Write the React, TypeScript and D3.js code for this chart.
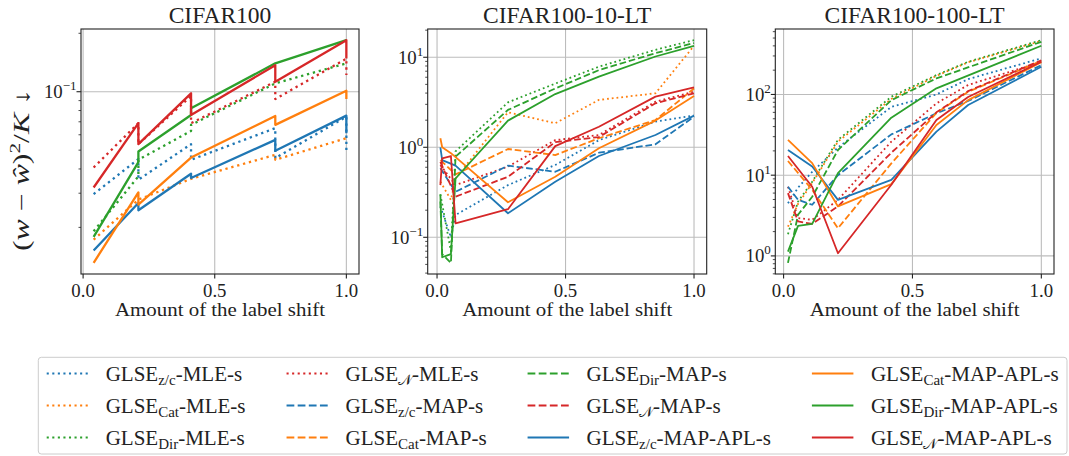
import React, { useEffect, useRef } from "react";
import * as d3 from "d3";

const W = 1069;
const H = 456;
const FONT = "'Liberation Serif', 'DejaVu Serif', serif";

// Estimator families (subscript) and their colours
const groups = ["z/c", "Cat", "Dir", "N"];
const groupColors = ["#1f77b4", "#ff7f0e", "#2ca02c", "#d62728"];
// Inference variants and their line styles
const methods = ["MLE-s", "MAP-s", "MAP-APL-s"];
const methodStyles = ["dotted", "dashed", "solid"];

// ---- CIFAR100 (two runs at each shift amount) ----
const c100X = [0.04, 0.21, 0.21, 0.41, 0.41, 0.73, 0.73, 1.0, 1.0];
const c100ZcMle = [0.0297, 0.045, 0.0352, 0.0537, 0.0446, 0.0649, 0.0455, 0.0744, 0.0496];
const c100CatMle = [0.0173, 0.0278, 0.0278, 0.0356, 0.0356, 0.0473, 0.0446, 0.0576, 0.0576];
const c100DirMle = [0.0191, 0.0366, 0.0446, 0.0628, 0.0675, 0.1104, 0.1104, 0.14, 0.14];
const c100NMle = [0.0407, 0.0689, 0.0537, 0.095, 0.0689, 0.1126, 0.0917, 0.148, 0.122];
const c100ZcApl = [0.0152, 0.0267, 0.0245, 0.0378, 0.0359, 0.0565, 0.0497, 0.0753, 0.0611];
const c100CatApl = [0.01313, 0.0303, 0.0262, 0.0458, 0.0458, 0.075, 0.0675, 0.1012, 0.0917];
const c100DirApl = [0.01786, 0.0434, 0.0492, 0.0759, 0.0822, 0.14, 0.14, 0.1844, 0.1844];
const c100NApl = [0.0321, 0.0689, 0.0537, 0.0981, 0.0759, 0.137, 0.1126, 0.1844, 0.1484];

// ---- CIFAR100-10-LT ----
const lt10X = [0.013, 0.02, 0.054, 0.072, 0.276, 0.46, 0.63, 0.85, 1.0];
const lt10ZcMle = [0.22, NaN, 0.1, 0.177, 0.38, 0.636, 1.2, 1.93, 2.25];
const lt10CatMle = [0.415, NaN, 0.26, 0.45, 2.45, 1.85, 3.36, 3.98, 13.4];
const lt10DirMle = [0.3, NaN, 0.07, 0.9, 3.16, 5.1, 7.86, 12.1, 15.5];
const lt10NMle = [0.636, NaN, NaN, 0.38, 0.61, 1.2, 1.37, 3.21, 4.15];
const lt10ZcMap = [0.585, NaN, NaN, 0.32, 0.625, 0.535, 0.87, 1.08, 2.19];
const lt10CatMap = [0.72, NaN, NaN, 0.5, 0.957, 0.82, 1.26, 2.01, 4.5];
const lt10DirMap = [0.25, 0.065, 0.052, 0.787, 2.6, 4.5, 7.2, 11.1, 14.4];
const lt10NMap = [0.69, NaN, NaN, 0.283, 0.47, 1.14, 1.3, 3.08, 3.98];
const lt10ZcApl = [1.0, 0.72, NaN, 0.625, 0.185, 0.415, 0.8, 1.37, 2.25];
const lt10CatApl = [1.26, 1.0, 0.86, NaN, 0.245, 0.47, 0.975, 1.98, 3.72];
const lt10DirApl = [0.3, 0.06, 0.065, 0.45, 1.976, 3.9, 6.09, 10.2, 13.4];
const lt10NApl = [0.38, 0.755, 0.8, 0.143, 0.205, 1.03, 1.69, 3.65, 4.64];

// ---- CIFAR100-100-LT ----
const lt100X = [0.017, 0.056, 0.111, 0.211, 0.418, 0.593, 0.716, 1.0];
const lt100ZcMle = [4.5, 7, 11, 22, 70, 100, 155, 280];
const lt100CatMle = [2.3, 4.4, 8, 26, 88, 170, 250, 460];
const lt100DirMle = [1.86, 4.7, 8.3, 27.4, 93.7, 174, 254, 471];
const lt100NMle = [7.2, 2.94, 2.8, 4.95, 26, 77.6, 131, 254];
const lt100ZcMap = [7.2, 4.95, 4.3, 10, 32, 58.5, 83, 231];
const lt100CatMap = [15, NaN, 6.6, 2.2, 14, 59, 108, 260];
const lt100DirMap = [0.82, 3.23, 5.4, 20.5, 85, 158, NaN, 449];
const lt100NMap = [6, 2.67, 2.5, 4.1, 19, 60, 110, 265];
const lt100ZcApl = [20.5, NaN, 12.8, 4.95, 8.75, 34.6, 74, 220];
const lt100CatApl = [27.4, NaN, 14.1, 4.1, 7.74, 41.9, 85, 251];
const lt100DirApl = [1.13, 2.36, 2.5, 10.6, 51.5, 119, NaN, 401];
const lt100NApl = [17.3, NaN, 7.2, 1.08, 7.6, 48.3, 93, 254];

const xTicks = [0, 0.5, 1.0];
const xTickLabels = ["0.0", "0.5", "1.0"];
const titles = ["CIFAR100", "CIFAR100-10-LT", "CIFAR100-100-LT"];
const xLabel = "Amount of the label shift";

type Series = { g: number; m: number; ys: number[] };

const panels = [
  {
    title: titles[0],
    xs: c100X,
    lw: 2.3,
    series: [
      { g: 0, m: 0, ys: c100ZcMle },
      { g: 1, m: 0, ys: c100CatMle },
      { g: 2, m: 0, ys: c100DirMle },
      { g: 3, m: 0, ys: c100NMle },
      { g: 0, m: 2, ys: c100ZcApl },
      { g: 1, m: 2, ys: c100CatApl },
      { g: 2, m: 2, ys: c100DirApl },
      { g: 3, m: 2, ys: c100NApl },
    ] as Series[],
    box: [81, 359],
  },
  {
    title: titles[1],
    xs: lt10X,
    lw: 1.8,
    series: [
      { g: 0, m: 0, ys: lt10ZcMle },
      { g: 1, m: 0, ys: lt10CatMle },
      { g: 2, m: 0, ys: lt10DirMle },
      { g: 3, m: 0, ys: lt10NMle },
      { g: 0, m: 1, ys: lt10ZcMap },
      { g: 1, m: 1, ys: lt10CatMap },
      { g: 2, m: 1, ys: lt10DirMap },
      { g: 3, m: 1, ys: lt10NMap },
      { g: 0, m: 2, ys: lt10ZcApl },
      { g: 1, m: 2, ys: lt10CatApl },
      { g: 2, m: 2, ys: lt10DirApl },
      { g: 3, m: 2, ys: lt10NApl },
    ] as Series[],
    box: [427.7, 706.7],
  },
  {
    title: titles[2],
    xs: lt100X,
    lw: 1.8,
    series: [
      { g: 0, m: 0, ys: lt100ZcMle },
      { g: 1, m: 0, ys: lt100CatMle },
      { g: 2, m: 0, ys: lt100DirMle },
      { g: 3, m: 0, ys: lt100NMle },
      { g: 0, m: 1, ys: lt100ZcMap },
      { g: 1, m: 1, ys: lt100CatMap },
      { g: 2, m: 1, ys: lt100DirMap },
      { g: 3, m: 1, ys: lt100NMap },
      { g: 0, m: 2, ys: lt100ZcApl },
      { g: 1, m: 2, ys: lt100CatApl },
      { g: 2, m: 2, ys: lt100DirApl },
      { g: 3, m: 2, ys: lt100NApl },
    ] as Series[],
    box: [775.3, 1054],
  },
];

const TOP = 29;
const BOTTOM = 274;

function dashFor(style: string, lw: number): string | null {
  if (style === "dotted") return `${1 * lw} ${1.65 * lw}`;
  if (style === "dashed") return `${3.7 * lw} ${1.6 * lw}`;
  return null;
}

function withMargin(lo: number, hi: number) {
  const m = 0.05 * (hi - lo);
  return [lo - m, hi + m];
}

export default function App() {
  const ref = useRef<SVGSVGElement>(null);

  useEffect(() => {
    const svg = d3.select(ref.current!);
    svg.selectAll("*").remove();
    svg.append("rect").attr("width", W).attr("height", H).attr("fill", "#fff");

    panels.forEach((p, pi) => {
      const [left, right] = p.box;
      const xExt = d3.extent(p.xs) as [number, number];
      const x = d3.scaleLinear().domain(withMargin(xExt[0], xExt[1])).range([left, right]);

      const allY = p.series.flatMap((s) => s.ys.filter((v) => !isNaN(v)));
      const [lyLo, lyHi] = withMargin(
        Math.log10(d3.min(allY)!),
        Math.log10(d3.max(allY)!)
      );
      const y = d3.scaleLog().domain([10 ** lyLo, 10 ** lyHi]).range([BOTTOM, TOP]);

      const g = svg.append("g");
      const clipId = `clip-${pi}`;
      g.append("clipPath")
        .attr("id", clipId)
        .append("rect")
        .attr("x", left)
        .attr("y", TOP)
        .attr("width", right - left)
        .attr("height", BOTTOM - TOP);

      // major / minor log ticks
      const majors: number[] = [];
      const minors: number[] = [];
      for (let e = Math.floor(lyLo); e <= Math.ceil(lyHi); e++) {
        if (e >= lyLo && e <= lyHi) majors.push(e);
        for (let k = 2; k <= 9; k++) {
          const v = k * 10 ** e;
          const lv = Math.log10(v);
          if (lv >= lyLo && lv <= lyHi) minors.push(v);
        }
      }

      // grid
      const grid = g.append("g").attr("stroke", "#bcbcbc").attr("stroke-width", 1.1);
      xTicks.forEach((t) => {
        grid.append("line").attr("x1", x(t)).attr("x2", x(t)).attr("y1", TOP).attr("y2", BOTTOM);
      });
      majors.forEach((e) => {
        const yy = y(10 ** e);
        grid.append("line").attr("x1", left).attr("x2", right).attr("y1", yy).attr("y2", yy);
      });

      // series lines
      const line = d3
        .line<[number, number]>()
        .x((d) => x(d[0]))
        .y((d) => y(d[1]));
      const lg = g.append("g").attr("clip-path", `url(#${clipId})`);
      p.series.forEach((s) => {
        const pts = p.xs
          .map((xv, i) => [xv, s.ys[i]] as [number, number])
          .filter((d) => !isNaN(d[1]));
        const dash = dashFor(methodStyles[s.m], p.lw);
        lg.append("path")
          .attr("d", line(pts))
          .attr("fill", "none")
          .attr("stroke", groupColors[s.g])
          .attr("stroke-width", p.lw)
          .attr("stroke-linejoin", "round")
          .attr("stroke-dasharray", dash);
      });

      // spines
      g.append("rect")
        .attr("x", left)
        .attr("y", TOP)
        .attr("width", right - left)
        .attr("height", BOTTOM - TOP)
        .attr("fill", "none")
        .attr("stroke", "#222")
        .attr("stroke-width", 1.1);

      // x ticks
      xTicks.forEach((t, i) => {
        g.append("line")
          .attr("x1", x(t))
          .attr("x2", x(t))
          .attr("y1", BOTTOM)
          .attr("y2", BOTTOM + 4.5)
          .attr("stroke", "#222")
          .attr("stroke-width", 1.1);
        g.append("text")
          .attr("x", x(t))
          .attr("y", 296.5)
          .attr("text-anchor", "middle")
          .attr("font-family", FONT)
          .attr("font-size", 18.8)
          .attr("fill", "#222")
          .text(xTickLabels[i]);
      });

      // y ticks
      majors.forEach((e) => {
        const yy = y(10 ** e);
        g.append("line")
          .attr("x1", left - 4.5)
          .attr("x2", left)
          .attr("y1", yy)
          .attr("y2", yy)
          .attr("stroke", "#222")
          .attr("stroke-width", 1.1);
        const t = g
          .append("text")
          .attr("x", left - 4.5)
          .attr("y", yy + 6.5)
          .attr("text-anchor", "end")
          .attr("font-family", FONT)
          .attr("font-size", 18.8)
          .attr("fill", "#222");
        t.append("tspan").text("10");
        t.append("tspan")
          .attr("dy", -8)
          .attr("font-size", 13)
          .text(String(e).replace("-", "\u2212"));
      });
      minors.forEach((v) => {
        const yy = y(v);
        g.append("line")
          .attr("x1", left - 2.5)
          .attr("x2", left)
          .attr("y1", yy)
          .attr("y2", yy)
          .attr("stroke", "#222")
          .attr("stroke-width", 0.8);
      });

      // title and x label
      const cx = (left + right) / 2;
      g.append("text")
        .attr("x", cx)
        .attr("y", 23)
        .attr("text-anchor", "middle")
        .attr("font-family", FONT)
        .attr("font-size", 23.5)
        .attr("fill", "#222")
        .text(p.title);
      g.append("text")
        .attr("x", cx)
        .attr("y", 316)
        .attr("text-anchor", "middle")
        .attr("font-family", FONT)
        .attr("font-size", 18.8)
        .attr("textLength", 210)
        .attr("lengthAdjust", "spacingAndGlyphs")
        .attr("fill", "#222")
        .text(xLabel);
    });

    // y-axis label of the first panel
    const yl = svg
      .append("text")
      .attr("transform", "translate(29,170) rotate(-90)")
      .attr("text-anchor", "middle")
      .attr("font-family", FONT)
      .attr("font-size", 22.5)
      .attr("textLength", 162)
      .attr("lengthAdjust", "spacingAndGlyphs")
      .attr("fill", "#222");
    yl.append("tspan").text("(");
    yl.append("tspan").attr("font-style", "italic").text("w");
    yl.append("tspan").text(" \u2212 ");
    yl.append("tspan").attr("font-style", "italic").text("\u0175");
    yl.append("tspan").text(")");
    yl.append("tspan").attr("dy", -9).attr("font-size", 15).text("2");
    yl.append("tspan").attr("dy", 9).text("/");
    yl.append("tspan").attr("font-style", "italic").text("K");
    yl.append("tspan").text(" \u2193");

    // legend, column-major like the series order
    const legend = svg.append("g");
    const rowsY = [373.5, 405.5, 437.5];
    const LEG_FS = 21;
    const handleLen = 41.5;
    const legendLeft = 38.3;
    let colX = legendLeft + 8.4;
    const entries: { g: number; m: number }[] = [];
    methods.forEach((_, m) => groups.forEach((_, gi) => entries.push({ g: gi, m })));
    let lastEnd = 0;
    for (let c = 0; c < 4; c++) {
      let maxW = 0;
      const textX = colX + handleLen + 17.5;
      for (let r = 0; r < 3; r++) {
        const e = entries[c * 3 + r];
        const yy = rowsY[r];
        legend
          .append("line")
          .attr("x1", colX)
          .attr("x2", colX + handleLen)
          .attr("y1", yy)
          .attr("y2", yy)
          .attr("stroke", groupColors[e.g])
          .attr("stroke-width", 2.1)
          .attr("stroke-dasharray", dashFor(methodStyles[e.m], 2.1));
        const t = legend
          .append("text")
          .attr("x", textX)
          .attr("y", yy + 7)
          .attr("font-family", FONT)
          .attr("font-size", LEG_FS)
          .attr("fill", "#222");
        t.append("tspan").text("GLSE");
        const sub = groups[e.g];
        if (sub === "N") {
          t.append("tspan")
            .attr("dy", 4)
            .attr("font-size", 15)
            .attr("font-family", "'DejaVu Sans', 'DejaVu Serif', serif")
            .text("\u{1D4A9}");
        } else {
          t.append("tspan").attr("dy", 4).attr("font-size", 15).text(sub);
        }
        t.append("tspan").attr("dy", -4).text("-" + methods[e.m]);
        const w = (t.node() as SVGTextElement).getComputedTextLength();
        maxW = Math.max(maxW, w);
      }
      lastEnd = textX + maxW;
      colX = textX + maxW + 41;
    }
    legend
      .insert("rect", ":first-child")
      .attr("x", legendLeft)
      .attr("y", 357.3)
      .attr("width", lastEnd + 8.4 - legendLeft)
      .attr("height", 96.7)
      .attr("rx", 3)
      .attr("fill", "#fff")
      .attr("stroke", "#cccccc")
      .attr("stroke-width", 1);
  }, []);

  return (
    <svg
      ref={ref}
      width={W}
      height={H}
      style={{ position: "absolute", left: 0, top: 0, display: "block" }}
    />
  );
}
